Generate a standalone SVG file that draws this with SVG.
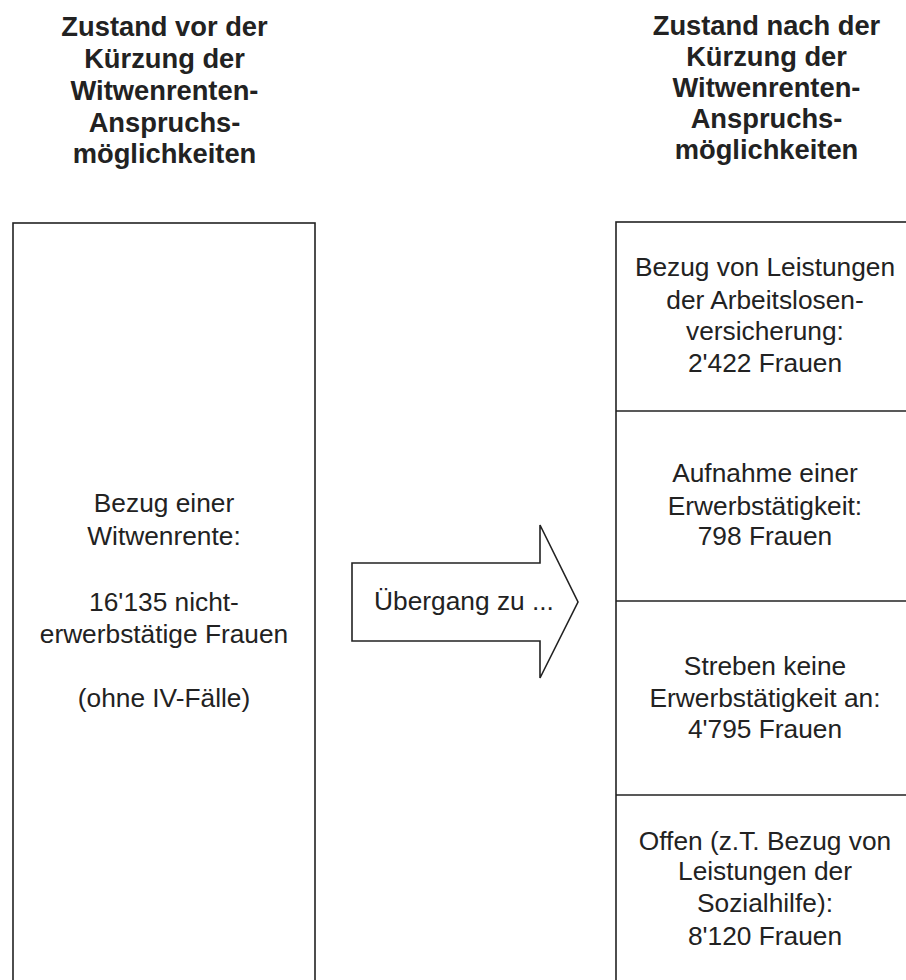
<svg xmlns="http://www.w3.org/2000/svg" width="906" height="980" viewBox="0 0 906 980">
<style>
.t{font-family:"Liberation Sans",Arial,sans-serif;font-size:27.3px;font-weight:bold;fill:#222;text-anchor:middle}
.b{font-family:"Liberation Sans",Arial,sans-serif;font-size:26.3px;fill:#222;text-anchor:middle}
.box{fill:#fff;stroke:#222;stroke-width:1.6}
.ln{stroke:#222;stroke-width:1.6;fill:none}
</style>
<rect width="906" height="980" fill="#fff"/>
<g id="title-left">
<text class="t" x="164.5" y="36">Zustand vor der</text>
<text class="t" x="164.5" y="68">Kürzung der</text>
<text class="t" x="164.5" y="100">Witwenrenten-</text>
<text class="t" x="164.5" y="132">Anspruchs-</text>
<text class="t" x="164.5" y="163">möglichkeiten</text>
</g>
<g id="title-right">
<text class="t" x="766.5" y="35">Zustand nach der</text>
<text class="t" x="766.5" y="66">Kürzung der</text>
<text class="t" x="766.5" y="97">Witwenrenten-</text>
<text class="t" x="766.5" y="128">Anspruchs-</text>
<text class="t" x="766.5" y="159">möglichkeiten</text>
</g>
<g id="before">
<rect class="box" x="13" y="223" width="302" height="780"/>
<text class="b" x="164" y="512">Bezug einer</text>
<text class="b" x="164" y="545">Witwenrente:</text>
<text class="b" x="164" y="611">16'135 nicht-</text>
<text class="b" x="164" y="643">erwerbstätige Frauen</text>
<text class="b" x="164" y="707">(ohne IV-Fälle)</text>
</g>
<g id="connectors">
<path class="ln" d="M352,563 H540 V525 L578,602 L540,678 V641 H352 Z" fill="#fff"/>
<text class="b" x="464" y="610">Übergang zu ...</text>
</g>
<g id="after">
<rect class="box" x="616" y="222" width="300" height="780"/>
</g>
<g id="after-alv">
<text class="b" x="765" y="276">Bezug von Leistungen</text>
<text class="b" x="765" y="309">der Arbeitslosen-</text>
<text class="b" x="765" y="340">versicherung:</text>
<text class="b" x="765" y="372">2'422 Frauen</text>
</g>
<g id="after-erwerb">
<line class="ln" x1="616" y1="411" x2="906" y2="411"/>
<text class="b" x="765" y="482">Aufnahme einer</text>
<text class="b" x="765" y="515">Erwerbstätigkeit:</text>
<text class="b" x="765" y="545">798 Frauen</text>
</g>
<g id="after-keine">
<line class="ln" x1="616" y1="601" x2="906" y2="601"/>
<text class="b" x="765" y="675">Streben keine</text>
<text class="b" x="765" y="707">Erwerbstätigkeit an:</text>
<text class="b" x="765" y="738">4'795 Frauen</text>
</g>
<g id="after-offen">
<line class="ln" x1="616" y1="795" x2="906" y2="795"/>
<text class="b" x="765" y="850">Offen (z.T. Bezug von</text>
<text class="b" x="765" y="880">Leistungen der</text>
<text class="b" x="765" y="912">Sozialhilfe):</text>
<text class="b" x="765" y="945">8'120 Frauen</text>
</g>
</svg>
